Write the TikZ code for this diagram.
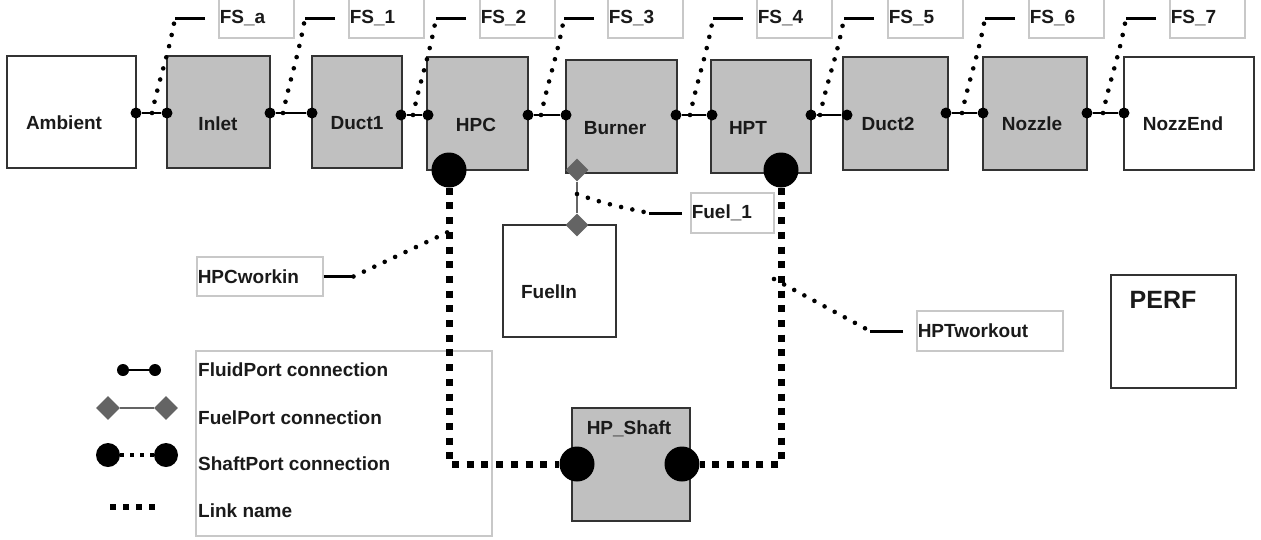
\documentclass[tikz,border=0pt]{standalone}
\usepackage{fontspec}
\setmainfont{Liberation Sans}
\usetikzlibrary{shapes.geometric}

\definecolor{blockgray}{HTML}{C0C0C0}
\definecolor{edgegray}{HTML}{333333}
\definecolor{tagedge}{HTML}{C8C8C8}
\definecolor{fuelgray}{HTML}{646464}
\definecolor{ink}{HTML}{1A1A1A}

\tikzset{
  blk/.style={draw=edgegray, line width=2pt, fill=blockgray, inner sep=0pt},
  ext/.style={draw=edgegray, line width=2pt, fill=white, inner sep=0pt},
  txt/.style={text=ink, font=\fontsize{19}{22}\selectfont\bfseries, inner sep=0pt},
  tag/.style={draw=tagedge, line width=1.5pt, fill=white, text=ink,
    font=\fontsize{19}{22}\selectfont\bfseries, align=left,
    inner xsep=1pt, inner ysep=0pt, anchor=west},
  fport/.style={circle, fill=black, minimum size=11pt, inner sep=0pt},
  sport/.style={circle, fill=black, minimum size=35pt, inner sep=0pt},
  qport/.style={diamond, fill=fuelgray, minimum size=23pt, inner sep=0pt},
  fluid/.style={line width=1.5pt},
  fuel/.style={draw=fuelgray, line width=2pt},
  shaftlink/.style={line width=7pt, dash pattern=on 7pt off 7.7pt},
  linkdots/.style={line width=4.6pt, line cap=round, dash pattern=on 0pt off 11.5pt},
  tick/.style={line width=3pt},
}

\begin{document}
\begin{tikzpicture}[x=1pt, y=-1pt]
      \useasboundingbox (0,0) rectangle (1261,539);

      % legend frame goes below everything
      \node[draw=tagedge, line width=1.5pt, minimum width=296pt, minimum height=185pt] (legend) at (344,443.5) {};

      % engine blocks
      \node[ext, minimum width=129pt, minimum height=112pt] (amb) at (71.5,112) {};
      \node[blk, minimum width=103pt, minimum height=112pt] (inlet) at (218.5,112) {};
      \node[blk, minimum width=90pt, minimum height=112pt] (duct1) at (357,112) {};
      \node[blk, minimum width=101pt, minimum height=113pt] (hpc) at (477.5,113.5) {};
      \node[blk, minimum width=111pt, minimum height=113pt] (burner) at (621.5,116.5) {};
      \node[blk, minimum width=100pt, minimum height=113pt] (hpt) at (761,116.5) {};
      \node[blk, minimum width=105pt, minimum height=113pt] (duct2) at (895.5,113.5) {};
      \node[blk, minimum width=104pt, minimum height=113pt] (nozzle) at (1035,113.5) {};
      \node[ext, minimum width=130pt, minimum height=113pt] (nozzend) at (1189,113.5) {};
      \node[ext, minimum width=113pt, minimum height=112pt] (fuelin) at (559.5,281) {};
      \node[blk, minimum width=118pt, minimum height=113pt] (shaft) at (631,464.5) {};
      \node[ext, minimum width=125pt, minimum height=113pt] (perf) at (1173.5,331.5) {};

      \node[txt] (amb-t) at (64,123) {Ambient};
      \node[txt] (inlet-t) at (218,124) {Inlet};
      \node[txt] (duct1-t) at (357,123) {Duct1};
      \node[txt] (hpc-t) at (476,125) {HPC};
      \node[txt] (burner-t) at (615,128) {Burner};
      \node[txt] (hpt-t) at (748,128) {HPT};
      \node[txt] (duct2-t) at (888,124) {Duct2};
      \node[txt] (nozzle-t) at (1032,124) {Nozzle};
      \node[txt] (nozzend-t) at (1183,124) {NozzEnd};
      \node[txt] (fuelin-t) at (549,292) {FuelIn};
      \node[txt] (shaft-t) at (629,429) {HP\_Shaft};
      \node[txt, font=\fontsize{25}{28}\selectfont\bfseries] (perf-t) at (1163,300) {PERF};

      % fluid ports
      \node[fport] (amb-o) at (136,113) {};
      \node[fport] (inlet-i) at (167,113) {};
      \node[fport] (inlet-o) at (270,113) {};
      \node[fport] (duct1-i) at (312,113) {};
      \node[fport] (duct1-o) at (401,115) {};
      \node[fport] (hpc-i) at (428,115) {};
      \node[fport] (hpc-o) at (528,115) {};
      \node[fport] (burner-i) at (566,115) {};
      \node[fport] (burner-o) at (676,115) {};
      \node[fport] (hpt-i) at (712,115) {};
      \node[fport] (hpt-o) at (811,115) {};
      \node[fport] (duct2-i) at (847,115) {};
      \node[fport] (duct2-o) at (946,113) {};
      \node[fport] (nozzle-i) at (983,113) {};
      \node[fport] (nozzle-o) at (1087,113) {};
      \node[fport] (nozzend-i) at (1124,113) {};

      \draw[fluid] (amb-o) -- (inlet-i);
      \draw[fluid] (inlet-o) -- (duct1-i);
      \draw[fluid] (duct1-o) -- (hpc-i);
      \draw[fluid] (hpc-o) -- (burner-i);
      \draw[fluid] (burner-o) -- (hpt-i);
      \draw[fluid] (hpt-o) -- (duct2-i);
      \draw[fluid] (duct2-o) -- (nozzle-i);
      \draw[fluid] (nozzle-o) -- (nozzend-i);

      % flow station names
      \foreach \ax/\ay/\bx/\nm [count=\i] in {152/113/218/FS\_a, 283/113/348/FS\_1,
          413/115/479/FS\_2, 541/115/607/FS\_3, 690/115/756/FS\_4,
          820/115/887/FS\_5, 962/113/1028/FS\_6, 1103/113/1169/FS\_7}
      {
        \node[tag, text width=73pt, minimum height=40pt] (fs\i) at (\bx,18) {\nm};
        \coordinate (fs\i-a) at (\ax,\ay);
        \draw[tick] ([xshift=-13pt]fs\i.west) -- ++(-30,0) coordinate (fs\i-t);
        \draw[linkdots] (fs\i-a) to[out=78, in=-100] (fs\i-t);
      }

      % fuel
      \node[qport] (burner-q) at (577,170) {};
      \node[qport] (fuelin-q) at (577,225) {};
      \draw[fuel] (burner-q) -- (fuelin-q);

      \node[tag, text width=81pt, minimum height=40pt] (fuel1) at (690,213) {Fuel\_1};
      \coordinate (fuel1-a) at (577,194);
      \draw[tick] ([xshift=-8pt]fuel1.west) -- ++(-33,0) coordinate (fuel1-t);
      \draw[linkdots] (fuel1-a) to[out=-20, in=168] (fuel1-t);

      % shaft
      \node[sport] (hpc-s) at (449,170) {};
      \node[sport] (hpt-s) at (781,170) {};
      \node[sport] (shaft-l) at (577,464) {};
      \node[sport] (shaft-r) at (682,464) {};
      \draw[shaftlink] (hpc-s) |- (shaft-l);
      \draw[shaftlink] (hpt-s) |- (shaft-r);

      \node[tag, text width=124pt, minimum height=39pt] (hpcw) at (196,276.5) {HPCworkin};
      \coordinate (hpcw-a) at (448,232);
      \draw[tick] (hpcw.east) -- ++(30,0) coordinate (hpcw-t);
      \draw[linkdots] (hpcw-t) -- (hpcw-a);

      \node[tag, text width=144pt, minimum height=40pt] (hptw) at (916,331) {HPTworkout};
      \coordinate (hptw-a) at (774,279);
      \draw[tick] ([xshift=-13pt]hptw.west) -- ++(-33,0) coordinate (hptw-t);
      \draw[linkdots] (hptw-a) -- (hptw-t);

      % legend
      \node[fport, minimum size=12pt] (lg-f1) at (123,370) {};
      \node[fport, minimum size=12pt] (lg-f2) at (155,370) {};
      \draw[fluid] (lg-f1) -- (lg-f2);
      \node[qport, minimum size=24pt] (lg-q1) at (108,408) {};
      \node[qport, minimum size=24pt] (lg-q2) at (166,408) {};
      \draw[fuel] (lg-q1) -- (lg-q2);
      \node[sport, minimum size=24pt] (lg-s1) at (108,455) {};
      \node[sport, minimum size=24pt] (lg-s2) at (166,455) {};
      \draw[line width=4pt, dash pattern=on 4pt off 6pt] (lg-s1) -- (lg-s2);
      \coordinate (lg-l1) at (110,507);
      \coordinate (lg-l2) at (160,507);
      \draw[line width=6pt, dash pattern=on 6pt off 7pt] (lg-l1) -- (lg-l2);

      \node[txt, anchor=west] (lg-ft) at (198,370) {FluidPort connection};
      \node[txt, anchor=west] (lg-qt) at (198,418) {FuelPort connection};
      \node[txt, anchor=west] (lg-st) at (198,464) {ShaftPort connection};
      \node[txt, anchor=west] (lg-lt) at (198,511) {Link name};
\end{tikzpicture}
\end{document}
